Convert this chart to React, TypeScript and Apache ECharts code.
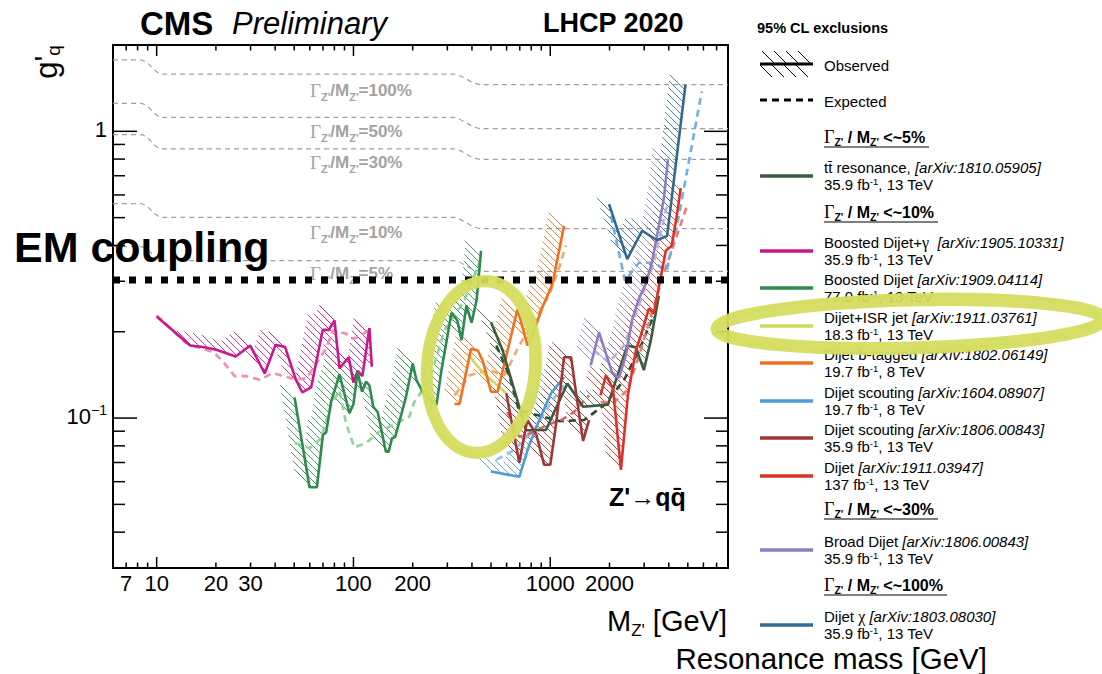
import React, { useEffect, useRef } from 'react';
import * as echarts from 'echarts';

const SANS = '"Liberation Sans", Arial, Helvetica, sans-serif';
const SERIF = '"Liberation Serif", "Times New Roman", Times, serif';
const GRAY = '#a3a3a3';

// ---------- axes ----------
const X_MIN = 6;
const X_MAX = 8000;
const Y_MIN = 0.03;
const Y_MAX = 2;

const xMajorTicks = [10, 100, 1000];
const xMinorTicks = [7, 8, 9, 20, 30, 40, 50, 60, 70, 80, 90, 200, 300, 400, 500, 600, 700, 800, 900, 2000, 3000, 4000, 5000, 6000, 7000];
const xTickLabelValues = [7, 10, 20, 30, 100, 200, 1000, 2000];
const xTickLabels = ['7', '10', '20', '30', '100', '200', '1000', '2000'];
const yMajorTicks = [0.1, 1];
const yMinorTicks = [0.04, 0.05, 0.06, 0.07, 0.08, 0.09, 0.2, 0.3, 0.4, 0.5, 0.6, 0.7, 0.8, 0.9];
const yTickLabelValues = [0.1, 1];
const yTickLabels = ['{b|10}{s|\u22121}', '{b|1}'];

// ---------- Gamma/M reference lines ----------
const widthMass = [6, 8.3, 9.0, 9.8, 10.6, 325, 345, 375, 410, 445, 8000];
const width100 = [1.774, 1.774, 1.726, 1.632, 1.584, 1.584, 1.565, 1.52, 1.474, 1.455, 1.455];
const width50 = [1.251, 1.251, 1.218, 1.151, 1.118, 1.118, 1.104, 1.07, 1.036, 1.022, 1.022];
const width30 = [0.974, 0.974, 0.948, 0.894, 0.868, 0.868, 0.858, 0.833, 0.808, 0.798, 0.798];
const width10 = [0.56, 0.56, 0.545, 0.516, 0.501, 0.501, 0.495, 0.48, 0.464, 0.458, 0.458];
const width5 = [0.396, 0.396, 0.386, 0.365, 0.354, 0.354, 0.35, 0.339, 0.329, 0.325, 0.325];
const widthLabels = ['100%', '50%', '30%', '10%', '5%'];

// ---------- EM coupling ----------
const emMass = [6, 8000];
const emG = [0.303, 0.303];

// ---------- limits ----------
const ttObsMass = [500, 573, 696, 752, 950, 1222, 1468, 1965, 2460, 2722, 2990, 3245, 3562];
const ttObsG = [0.216, 0.172, 0.1095, 0.0907, 0.0909, 0.132, 0.1095, 0.1114, 0.179, 0.1764, 0.147, 0.187, 0.267];
const ttExpMass = [532, 619, 692, 1110, 1486, 1877, 2367, 2820, 3360];
const ttExpG = [0.179, 0.141, 0.1066, 0.0976, 0.0984, 0.111, 0.1355, 0.172, 0.228];

const dgObsMass = [10, 14.8, 17.2, 20.1, 25.2, 29.9, 35.4, 40.2, 44.9, 50.8, 54.9, 61.0, 69.8, 75.0, 80.1, 84.9, 94.6, 100, 105, 111, 120.5, 124];
const dgObsG = [0.226, 0.179, 0.177, 0.173, 0.164, 0.179, 0.143, 0.18, 0.177, 0.137, 0.123, 0.128, 0.203, 0.203, 0.219, 0.149, 0.163, 0.133, 0.146, 0.14, 0.206, 0.151];
const dgExpMass = [10, 13.9, 15.9, 19.4, 21.8, 24.9, 28.6, 33.4, 39.0, 45.6, 50.2, 57.5, 64.6, 72.6, 78.5, 91.7, 99.1, 109, 118];
const dgExpG = [0.228, 0.184, 0.177, 0.17, 0.157, 0.14, 0.14, 0.136, 0.1437, 0.139, 0.137, 0.137, 0.155, 0.1746, 0.202, 0.197, 0.189, 0.193, 0.202];

const bdObsMass = [50.2, 59.8, 65.2, 69.9, 72.6, 77.0, 84.9, 95.4, 100, 105, 110.5, 115.8, 120.5, 126, 132.8, 146, 151, 157, 163, 185, 200, 209, 230, 264, 280, 315, 337, 354, 375, 398, 422, 445];
const bdObsG = [0.118, 0.0574, 0.0574, 0.0873, 0.089, 0.114, 0.142, 0.104, 0.112, 0.145, 0.1235, 0.134, 0.13, 0.1095, 0.105, 0.0764, 0.0764, 0.085, 0.086, 0.1186, 0.155, 0.1355, 0.12, 0.111, 0.147, 0.233, 0.219, 0.187, 0.247, 0.215, 0.257, 0.383];
const bdExpMass = [50.2, 59.8, 68.5, 77, 84.9, 91.7, 101, 116, 135.5, 164.5, 192, 204, 243, 290, 366, 445];
const bdExpG = [0.082, 0.0785, 0.085, 0.111, 0.125, 0.0958, 0.079, 0.082, 0.0897, 0.0958, 0.101, 0.114, 0.1355, 0.202, 0.257, 0.36];

const isrObsMass = [379, 450, 598];
const isrObsG = [0.168, 0.145, 0.122];

const btObsMass = [326, 346, 396, 428, 453, 500, 540, 607, 682, 767, 828, 912, 1025, 1175];
const btObsG = [0.112, 0.112, 0.1746, 0.172, 0.159, 0.1235, 0.1235, 0.172, 0.24, 0.179, 0.202, 0.2435, 0.293, 0.468];
const btExpMass = [326, 390, 490, 585, 695, 828, 990, 1110, 1200];
const btExpG = [0.12, 0.141, 0.147, 0.141, 0.179, 0.218, 0.27, 0.335, 0.4];

const sc8ObsMass = [500, 696, 782, 879, 1010, 1175];
const sc8ObsG = [0.0651, 0.0624, 0.0806, 0.0984, 0.122, 0.139];
const sc8ExpMass = [532, 656, 828, 987, 1175];
const sc8ExpG = [0.0715, 0.0774, 0.0909, 0.111, 0.13];

const sc13ObsMass = [598, 640, 696, 764, 848, 931, 1000, 1060, 1123, 1175, 1276, 1368, 1468, 1574];
const sc13ObsG = [0.122, 0.095, 0.0698, 0.0984, 0.088, 0.0687, 0.0687, 0.0909, 0.125, 0.163, 0.163, 0.1155, 0.0832, 0.0984];
const sc13ExpMass = [605, 696, 828, 965, 1136, 1320, 1574];
const sc13ExpG = [0.105, 0.086, 0.0894, 0.0946, 0.0984, 0.105, 0.12];

const djObsMass = [1800, 1918, 2083, 2286, 2480, 2722, 2884, 3168, 3357, 3600, 3863, 4140, 4393, 4603];
const djObsG = [0.12, 0.141, 0.127, 0.066, 0.12, 0.172, 0.194, 0.241, 0.2315, 0.297, 0.383, 0.399, 0.507, 0.634];
const djExpMass = [1800, 2112, 2461, 2831, 3255, 3741, 4305, 4950];
const djExpG = [0.1137, 0.1137, 0.125, 0.1655, 0.228, 0.314, 0.415, 0.549];

const brObsMass = [1606, 1769, 1897, 2058, 2233, 2423, 2600, 2820, 3060, 3282, 3562, 3780, 3960];
const brObsG = [0.153, 0.199, 0.172, 0.1445, 0.138, 0.1655, 0.219, 0.261, 0.294, 0.348, 0.468, 0.585, 0.793];
const brExpMass = [1667, 1985, 2367, 2820, 3357, 3913];
const brExpG = [0.172, 0.1565, 0.179, 0.247, 0.348, 0.549];

const chiObsMass = [1989, 2460, 2930, 3490, 3924, 4864];
const chiObsG = [0.557, 0.3585, 0.45, 0.417, 0.432, 1.453];
const chiExpMass = [2035, 2396, 2820, 3357, 3908, 4500, 5176, 5882];
const chiExpG = [0.507, 0.3015, 0.348, 0.348, 0.3266, 0.507, 0.852, 1.377];

// ---------- colours ----------
const C_TT = '#3b5b3f', C_TT_E = '#2d4a30';
const C_DG = '#c8188c', C_DG_E = '#f58cb4';
const C_BD = '#2e8b4f', C_BD_E = '#90d49a';
const C_ISR = '#cfd85e';
const C_BT = '#f0701e', C_BT_E = '#f9a66a';
const C_SC8 = '#4e9bd6', C_SC8_E = '#8ec4ec';
const C_SC13 = '#a23535', C_SC13_E = '#e06060';
const C_DJ = '#d8332b', C_DJ_E = '#f07c70';
const C_BR = '#8e7cc3', C_BR_E = '#b9b0e0';
const C_CHI = '#34698f', C_CHI_E = '#6db0e2';
const C_MARK = '#d4dd5c';

// ---------- legend ----------
const legendNames = ['tt\u0304 resonance, ', 'Boosted Dijet+\u03b3  ', 'Boosted Dijet ', 'Dijet+ISR jet ', 'Dijet b-tagged ', 'Dijet scouting ', 'Dijet scouting ', 'Dijet ', 'Broad Dijet ', 'Dijet \u03c7 '];
const legendRefs = ['[arXiv:1810.05905]', '[arXiv:1905.10331]', '[arXiv:1909.04114]', '[arXiv:1911.03761]', '[arXiv:1802.06149]', '[arXiv:1604.08907]', '[arXiv:1806.00843]', '[arXiv:1911.03947]', '[arXiv:1806.00843]', '[arXiv:1803.08030]'];
const legendLumi = ['35.9', '35.9', '77.0', '18.3', '19.7', '19.7', '35.9', '137', '35.9', '35.9'];
const legendEnergy = ['13', '13', '13', '13', '8', '8', '13', '13', '13', '13'];
const legendColors = [C_TT, C_DG, C_BD, C_ISR, C_BT, C_SC8, C_SC13, C_DJ, C_BR, C_CHI];
const legendHeaders = ['5%', '10%', '30%', '100%'];

const HATCH_STEP = 7;
const HATCH_LEN = 15;

function pairs(m: number[], g: number[]) {
  return m.map((v, i) => [v, g[i]]);
}

function lineSeries(m: number[], g: number[], color: string, dashed: boolean, width = 2.6, z = 4) {
  return {
    type: 'line',
    data: pairs(m, g),
    showSymbol: false,
    symbol: 'none',
    silent: true,
    clip: true,
    z,
    itemStyle: { color },
    lineStyle: { color, width, type: dashed ? [7, 5] : 'solid', cap: 'butt' },
  };
}

function hatchSeries(m: number[], g: number[], color: string) {
  const pts = pairs(m, g);
  return {
    type: 'custom',
    coordinateSystem: 'cartesian2d',
    clip: true,
    silent: true,
    z: 2,
    data: pts,
    renderItem: (params: any, api: any) => {
      const i = params.dataIndex;
      const children: any[] = [];
      if (i < pts.length - 1) {
        const p0 = api.coord(pts[i]);
        const p1 = api.coord(pts[i + 1]);
        const c0 = p0[0] - p0[1];
        const c1 = p1[0] - p1[1];
        if (Math.abs(c1 - c0) > 1e-6) {
          const lo = Math.min(c0, c1);
          const hi = Math.max(c0, c1);
          for (let k = Math.ceil(lo / HATCH_STEP); k * HATCH_STEP <= hi; k++) {
            const t = (k * HATCH_STEP - c0) / (c1 - c0);
            const x = p0[0] + t * (p1[0] - p0[0]);
            const y = p0[1] + t * (p1[1] - p0[1]);
            children.push({
              type: 'line',
              shape: { x1: x, y1: y, x2: x - HATCH_LEN, y2: y - HATCH_LEN },
              style: { stroke: color, lineWidth: 1, opacity: 0.85 },
            });
          }
        }
      }
      return { type: 'group', children };
    },
  };
}

function xTickSeries(values: number[], len: number) {
  return {
    type: 'custom',
    coordinateSystem: 'cartesian2d',
    clip: false,
    silent: true,
    z: 10,
    data: values.map((v) => [v, Y_MIN]),
    renderItem: (params: any, api: any) => {
      const v = api.value(0);
      const b = api.coord([v, Y_MIN]);
      const t = api.coord([v, Y_MAX]);
      return {
        type: 'group',
        children: [
          { type: 'line', shape: { x1: b[0], y1: b[1], x2: b[0], y2: b[1] - len }, style: { stroke: '#000', lineWidth: 1.5 } },
          { type: 'line', shape: { x1: t[0], y1: t[1], x2: t[0], y2: t[1] + len }, style: { stroke: '#000', lineWidth: 1.5 } },
        ],
      };
    },
  };
}

function yTickSeries(values: number[], len: number) {
  return {
    type: 'custom',
    coordinateSystem: 'cartesian2d',
    clip: false,
    silent: true,
    z: 10,
    data: values.map((v) => [X_MIN, v]),
    renderItem: (params: any, api: any) => {
      const v = api.value(1);
      const l = api.coord([X_MIN, v]);
      const r = api.coord([X_MAX, v]);
      return {
        type: 'group',
        children: [
          { type: 'line', shape: { x1: l[0], y1: l[1], x2: l[0] + len, y2: l[1] }, style: { stroke: '#000', lineWidth: 1.5 } },
          { type: 'line', shape: { x1: r[0], y1: r[1], x2: r[0] - len, y2: r[1] }, style: { stroke: '#000', lineWidth: 1.5 } },
        ],
      };
    },
  };
}

function xLabelSeries() {
  return {
    type: 'custom',
    coordinateSystem: 'cartesian2d',
    clip: false,
    silent: true,
    z: 10,
    data: xTickLabelValues.map((v) => [v, Y_MIN]),
    renderItem: (params: any, api: any) => {
      const p = api.coord([api.value(0), Y_MIN]);
      return {
        type: 'text',
        x: p[0],
        y: p[1] + 4,
        style: {
          text: xTickLabels[params.dataIndex],
          fontSize: 22,
          fontFamily: SANS,
          fill: '#000',
          align: 'center',
          textAlign: 'center',
          verticalAlign: 'top',
          textVerticalAlign: 'top',
        },
      };
    },
  };
}

function yLabelSeries() {
  return {
    type: 'custom',
    coordinateSystem: 'cartesian2d',
    clip: false,
    silent: true,
    z: 10,
    data: yTickLabelValues.map((v) => [X_MIN, v]),
    renderItem: (params: any, api: any) => {
      const p = api.coord([X_MIN, api.value(1)]);
      return {
        type: 'text',
        x: p[0] - 6,
        y: p[1] - 2,
        style: {
          text: yTickLabels[params.dataIndex],
          align: 'right',
          textAlign: 'right',
          verticalAlign: 'middle',
          textVerticalAlign: 'middle',
          rich: {
            b: { fontSize: 22, fontFamily: SANS, fill: '#000', lineHeight: 26 },
            s: { fontSize: 14, fontFamily: SANS, fill: '#000', lineHeight: 14, verticalAlign: 'top' },
          },
        },
      };
    },
  };
}

function richLegendName(s: string) {
  return '{n|' + s.replace(/([\u03b3\u03c7])/g, '}{gr|$1}{n|') + '}';
}

function buildGraphic() {
  const els: any[] = [];
  const txt = (x: number, y: number, style: any, z = 20, extra: any = {}) =>
    els.push({ type: 'text', x, y, z, silent: true, ...extra, style: { verticalAlign: 'middle', textVerticalAlign: 'middle', ...style } });

  // top labels
  txt(140, 23, { text: 'CMS', fontFamily: SANS, fontWeight: 'bold', fontSize: 33, fill: '#000' });
  txt(232, 23, { text: 'Preliminary', fontFamily: SANS, fontStyle: 'italic', fontSize: 31, fill: '#000' });
  txt(543, 23, { text: 'LHCP 2020', fontFamily: SANS, fontWeight: 'bold', fontSize: 27, fill: '#000' });

  // y-axis title
  txt(46, 62, {
    text: "{g|g'}{q|q}",
    align: 'center',
    textAlign: 'center',
    rich: {
      g: { fontFamily: SANS, fontSize: 31, fill: '#000', lineHeight: 34 },
      q: { fontFamily: SANS, fontSize: 19, fill: '#000', lineHeight: 19, verticalAlign: 'bottom' },
    },
  }, 20, { rotation: Math.PI / 2 });

  // x-axis titles
  txt(727, 621, {
    text: "{m|M}{s|Z'}{m| [GeV]}",
    align: 'right',
    textAlign: 'right',
    rich: {
      m: { fontFamily: SANS, fontSize: 29, fill: '#000', lineHeight: 36 },
      s: { fontFamily: SANS, fontSize: 17, fill: '#000', lineHeight: 17, verticalAlign: 'bottom' },
    },
  });
  txt(987, 658, { text: 'Resonance mass [GeV]', fontFamily: SANS, fontSize: 29.5, lineHeight: 29, fill: '#000', align: 'right', textAlign: 'right' });

  // EM coupling
  txt(14, 247, { text: 'EM coupling', fontFamily: SANS, fontWeight: 'bold', fontSize: 43, fill: '#000' }, 50);

  // Z'->qq
  txt(609, 497, { text: "Z'\u2192qq\u0304", fontFamily: SANS, fontWeight: 'bold', fontSize: 25, fill: '#000' }, 20);

  // Gamma/M labels
  const gRich = {
    g: { fontFamily: SERIF, fontSize: 19, fill: GRAY, lineHeight: 24 },
    s: { fontFamily: SANS, fontWeight: 'bold', fontSize: 11, fill: GRAY, lineHeight: 11, verticalAlign: 'bottom' },
    n: { fontFamily: SANS, fontWeight: 'bold', fontSize: 17, fill: GRAY, lineHeight: 24 },
  };
  const gY = [90, 131, 162, 232, 273];
  widthLabels.forEach((lab, i) => {
    txt(310, gY[i], { text: "{g|\u0393}{s|Z'}{n|/M}{s|Z'}{n|=" + lab + '}', rich: gRich }, 1);
  });

  // legend
  const LX = 824;
  txt(757, 28, { text: '95% CL exclusions', fontFamily: SANS, fontWeight: 'bold', fontSize: 14.5, fill: '#000' });
  els.push({ type: 'line', z: 20, silent: true, shape: { x1: 760, y1: 64, x2: 813, y2: 64 }, style: { stroke: '#000', lineWidth: 3 } });
  [762, 774, 786, 798].forEach((x) => {
    els.push({ type: 'line', z: 20, silent: true, shape: { x1: x, y1: 51, x2: x + 12, y2: 63 }, style: { stroke: '#000', lineWidth: 1 } });
    els.push({ type: 'line', z: 20, silent: true, shape: { x1: x - 2, y1: 65, x2: x + 10, y2: 77 }, style: { stroke: '#000', lineWidth: 1 } });
  });
  txt(LX, 65, { text: 'Observed', fontFamily: SANS, fontSize: 15, fill: '#000' });
  els.push({ type: 'line', z: 20, silent: true, shape: { x1: 760, y1: 100, x2: 813, y2: 100 }, style: { stroke: '#000', lineWidth: 3, lineDash: [7, 5] } });
  txt(LX, 101, { text: 'Expected', fontFamily: SANS, fontSize: 15, fill: '#000' });

  const hRich = {
    g: { fontFamily: SERIF, fontSize: 18, fill: '#000', lineHeight: 21 },
    b: { fontFamily: SANS, fontWeight: 'bold', fontSize: 16, fill: '#000', lineHeight: 21 },
    s: { fontFamily: SANS, fontWeight: 'bold', fontSize: 10.5, fill: '#000', lineHeight: 10, verticalAlign: 'bottom' },
  };
  const headerY = [137, 212, 509, 585];
  const headerW = [105, 114, 114, 123];
  legendHeaders.forEach((h, i) => {
    txt(LX, headerY[i], { text: "{g|\u0393}{s|Z'}{b| / M}{s|Z'}{b| <~" + h + '}', rich: hRich });
    els.push({ type: 'line', z: 20, silent: true, shape: { x1: LX, y1: headerY[i] + 10, x2: LX + headerW[i], y2: headerY[i] + 10 }, style: { stroke: '#000', lineWidth: 1.2 } });
  });

  const lRich = {
    n: { fontFamily: SANS, fontSize: 15, fill: '#000', lineHeight: 16 },
    i: { fontFamily: SANS, fontSize: 15, fontStyle: 'italic', fill: '#000', lineHeight: 16 },
    gr: { fontFamily: SERIF, fontSize: 16, fill: '#000', lineHeight: 16 },
    sup: { fontFamily: SANS, fontSize: 9.5, fill: '#000', lineHeight: 9, verticalAlign: 'top' },
  };
  const symY = [176, 251, 288, 326, 363, 401, 438, 476, 550, 625];
  legendNames.forEach((name, i) => {
    const y = symY[i];
    els.push({ type: 'line', z: 20, silent: true, shape: { x1: 760, y1: y, x2: 813, y2: y }, style: { stroke: legendColors[i], lineWidth: 3.5 } });
    txt(LX, y - 9, { text: richLegendName(name) + '{i|' + legendRefs[i] + '}', rich: lRich });
    txt(LX, y + 8, { text: '{n|' + legendLumi[i] + ' fb}{sup|-1}{n|, ' + legendEnergy[i] + ' TeV}', rich: lRich });
  });

  // hand-drawn highlight ellipses
  els.push({ type: 'ellipse', z: 100, silent: true, x: 481, y: 367, rotation: -0.08, shape: { cx: 0, cy: 0, rx: 54, ry: 86 }, style: { fill: 'none', stroke: C_MARK, lineWidth: 12, opacity: 0.93 } });
  els.push({ type: 'ellipse', z: 100, silent: true, x: 482, y: 366, rotation: -0.1, shape: { cx: 0, cy: 0, rx: 58, ry: 89 }, style: { fill: 'none', stroke: C_MARK, lineWidth: 4, opacity: 0.6 } });
  els.push({ type: 'ellipse', z: 100, silent: true, x: 910, y: 324, rotation: 0.025, shape: { cx: 0, cy: 0, rx: 193, ry: 24 }, style: { fill: 'none', stroke: C_MARK, lineWidth: 13, opacity: 0.93 } });
  els.push({ type: 'ellipse', z: 100, silent: true, x: 908, y: 323, rotation: 0.03, shape: { cx: 0, cy: 0, rx: 190, ry: 28 }, style: { fill: 'none', stroke: C_MARK, lineWidth: 4, opacity: 0.55 } });

  return els;
}

function buildOption() {
  const axisCommon = {
    type: 'log',
    logBase: 10,
    axisLine: { show: true, onZero: false, lineStyle: { color: '#000', width: 2 } },
    axisTick: { show: false },
    axisLabel: { show: false },
    splitLine: { show: false },
    minorTick: { show: false },
    minorSplitLine: { show: false },
  };

  const widthLines = [width100, width50, width30, width10, width5].map((w) => ({
    type: 'line',
    data: pairs(widthMass, w),
    showSymbol: false,
    symbol: 'none',
    silent: true,
    smooth: 0.3,
    z: 1,
    lineStyle: { color: '#a0a0a0', width: 1.2, type: [5, 4] },
  }));

  const curves = [
    { om: dgObsMass, og: dgObsG, em: dgExpMass, eg: dgExpG, c: C_DG, ce: C_DG_E },
    { om: bdObsMass, og: bdObsG, em: bdExpMass, eg: bdExpG, c: C_BD, ce: C_BD_E },
    { om: isrObsMass, og: isrObsG, em: null, eg: null, c: C_ISR, ce: C_ISR },
    { om: btObsMass, og: btObsG, em: btExpMass, eg: btExpG, c: C_BT, ce: C_BT_E },
    { om: sc8ObsMass, og: sc8ObsG, em: sc8ExpMass, eg: sc8ExpG, c: C_SC8, ce: C_SC8_E },
    { om: ttObsMass, og: ttObsG, em: ttExpMass, eg: ttExpG, c: C_TT, ce: C_TT_E },
    { om: sc13ObsMass, og: sc13ObsG, em: sc13ExpMass, eg: sc13ExpG, c: C_SC13, ce: C_SC13_E },
    { om: brObsMass, og: brObsG, em: brExpMass, eg: brExpG, c: C_BR, ce: C_BR_E },
    { om: djObsMass, og: djObsG, em: djExpMass, eg: djExpG, c: C_DJ, ce: C_DJ_E },
    { om: chiObsMass, og: chiObsG, em: chiExpMass, eg: chiExpG, c: C_CHI, ce: C_CHI_E },
  ];

  const series: any[] = [...widthLines];
  curves.forEach((cv) => series.push(hatchSeries(cv.om, cv.og, cv.c)));
  curves.forEach((cv) => {
    if (cv.em) series.push(lineSeries(cv.em, cv.eg as number[], cv.ce, true, 2.6, 3));
  });
  curves.forEach((cv) => series.push(lineSeries(cv.om, cv.og, cv.c, false, 2.6, 4)));

  series.push({
    type: 'line',
    data: pairs(emMass, emG),
    showSymbol: false,
    symbol: 'none',
    silent: true,
    z: 6,
    lineStyle: { color: '#000', width: 7, type: [7, 9], cap: 'butt' },
  });

  series.push(xTickSeries(xMajorTicks, 11));
  series.push(xTickSeries(xMinorTicks, 5.5));
  series.push(yTickSeries(yMajorTicks, 24));
  series.push(yTickSeries(yMinorTicks, 12));
  series.push(xLabelSeries());
  series.push(yLabelSeries());

  return {
    animation: false,
    backgroundColor: '#ffffff',
    grid: { left: 113, top: 45, width: 615, height: 523, containLabel: false },
    xAxis: [
      { ...axisCommon, min: X_MIN, max: X_MAX, position: 'bottom' },
      { ...axisCommon, min: X_MIN, max: X_MAX, position: 'top' },
    ],
    yAxis: [
      { ...axisCommon, min: Y_MIN, max: Y_MAX, position: 'left' },
      { ...axisCommon, min: Y_MIN, max: Y_MAX, position: 'right' },
    ],
    series,
    graphic: { elements: buildGraphic() },
  };
}

export default function App() {
  const ref = useRef<HTMLDivElement>(null);
  useEffect(() => {
    if (!ref.current) return;
    const chart = echarts.init(ref.current, null, { renderer: 'svg' });
    chart.setOption(buildOption() as any);
    return () => {
      chart.dispose();
    };
  }, []);
  return (
    <div
      ref={ref}
      style={{ position: 'fixed', left: 0, top: 0, width: 1102, height: 674, background: '#ffffff' }}
    />
  );
}
